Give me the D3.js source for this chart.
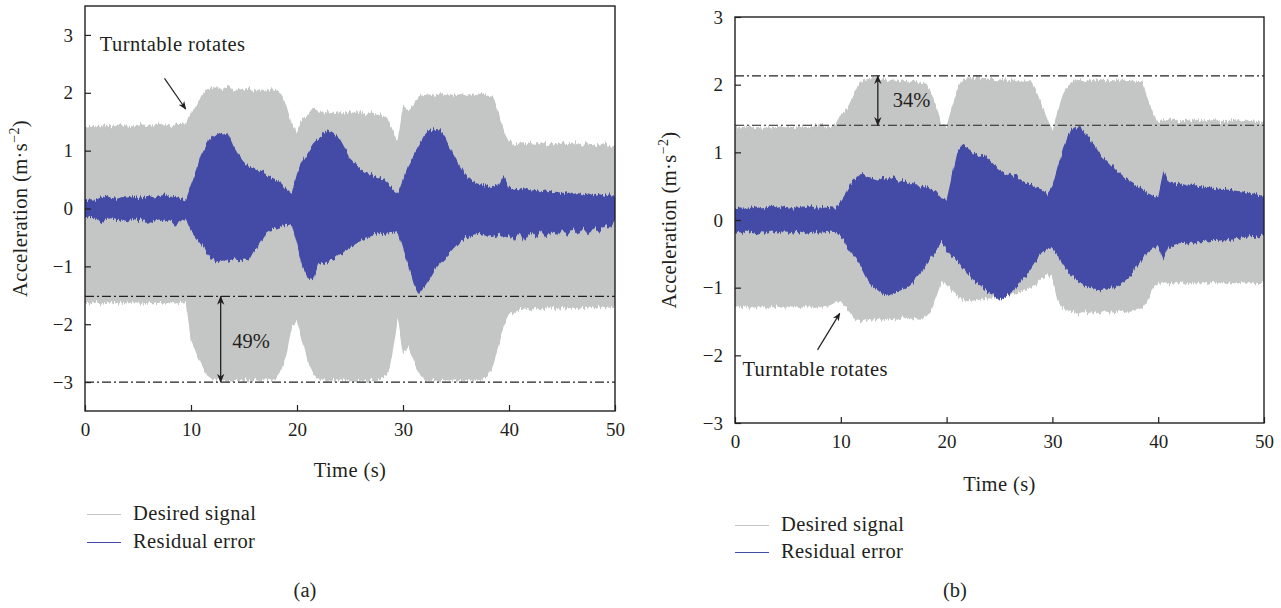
<!DOCTYPE html>
<html>
<head>
<meta charset="utf-8">
<script src="https://cdn.jsdelivr.net/npm/d3@7"></script>
<style>
  html, body { margin: 0; padding: 0; background: #ffffff; }
  svg text { font-family: "Liberation Serif", "DejaVu Serif", serif; fill: #231f20; }
</style>
</head>
<body>
<svg id="chart" width="1281" height="608"></svg>
<script>
// Sample times (s), shared by both recordings: envelope values every 0.5 s
const time = d3.range(0, 50.001, 0.5).map(t => +t.toFixed(1));

// (a) Desired signal envelope (m·s^-2)
const desiredUpperA = [
  1.40,1.43,1.42,1.44,1.43,1.42,1.45,1.43,1.44,1.42,
  1.43,1.45,1.44,1.43,1.46,1.45,1.44,1.47,1.46,1.45,
  1.67,1.76,1.96,2.06,2.08,2.10,2.05,2.12,2.04,2.07,
  2.05,2.08,2.03,2.06,2.04,2.06,2.05,1.98,1.78,1.47,
  1.35,1.55,1.62,1.74,1.68,1.66,1.68,1.65,1.67,1.64,
  1.67,1.65,1.68,1.63,1.66,1.64,1.62,1.55,1.35,1.18,
  1.78,1.70,1.80,1.94,1.96,1.97,1.95,1.99,1.96,1.97,
  1.96,1.98,1.95,1.97,1.96,2.00,1.95,1.93,1.65,1.35,
  1.17,1.12,1.14,1.10,1.13,1.12,1.15,1.11,1.13,1.12,
  1.14,1.11,1.12,1.13,1.10,1.12,1.11,1.09,1.11,1.08,
  1.10];
const desiredLowerA = [
  -1.62,-1.64,-1.61,-1.66,-1.63,-1.62,-1.65,-1.63,-1.64,-1.62,
  -1.63,-1.66,-1.62,-1.64,-1.63,-1.65,-1.62,-1.64,-1.63,-1.62,
  -2.29,-2.50,-2.70,-2.88,-2.95,-2.97,-2.95,-2.99,-2.96,-2.98,
  -2.97,-2.99,-2.96,-2.98,-2.95,-2.97,-2.93,-2.80,-2.55,-2.06,
  -1.94,-2.30,-2.65,-2.85,-2.95,-2.97,-2.99,-2.96,-2.98,-2.97,
  -2.98,-3.00,-2.97,-2.99,-2.96,-2.98,-2.95,-2.88,-2.55,-1.90,
  -2.52,-2.40,-2.62,-2.85,-2.96,-2.98,-2.97,-2.99,-2.96,-2.98,
  -2.97,-2.99,-2.96,-2.98,-2.97,-2.95,-2.90,-2.70,-2.40,-2.05,
  -1.82,-1.80,-1.74,-1.73,-1.75,-1.72,-1.74,-1.73,-1.71,-1.74,
  -1.72,-1.73,-1.71,-1.74,-1.72,-1.71,-1.73,-1.70,-1.72,-1.71,
  -1.70];

// (a) Residual error envelope
const residualUpperA = [
  0.14,0.16,0.15,0.19,0.22,0.18,0.17,0.20,0.19,0.21,
  0.18,0.20,0.22,0.19,0.21,0.24,0.20,0.22,0.17,0.14,
  0.40,0.65,0.95,1.12,1.25,1.32,1.28,1.30,1.08,0.92,
  0.80,0.74,0.70,0.65,0.60,0.55,0.50,0.44,0.34,0.27,
  0.60,0.82,0.97,1.12,1.22,1.30,1.36,1.30,1.22,1.05,
  0.85,0.75,0.68,0.62,0.58,0.55,0.52,0.45,0.34,0.25,
  0.50,0.75,0.92,1.08,1.25,1.34,1.38,1.36,1.22,1.02,
  0.85,0.68,0.56,0.48,0.43,0.41,0.38,0.37,0.40,0.58,
  0.36,0.34,0.33,0.35,0.31,0.32,0.30,0.31,0.28,0.29,
  0.27,0.28,0.25,0.27,0.24,0.26,0.23,0.25,0.22,0.24,
  0.20];
const residualLowerA = [
  -0.14,-0.17,-0.16,-0.26,-0.18,-0.17,-0.20,-0.19,-0.22,-0.18,
  -0.20,-0.19,-0.28,-0.21,-0.19,-0.23,-0.20,-0.30,-0.22,-0.16,
  -0.38,-0.50,-0.62,-0.77,-0.88,-0.93,-0.90,-0.92,-0.89,-0.91,
  -0.88,-0.90,-0.73,-0.60,-0.45,-0.38,-0.35,-0.32,-0.30,-0.27,
  -0.62,-1.00,-1.20,-1.24,-0.98,-0.95,-0.90,-0.88,-0.80,-0.72,
  -0.68,-0.62,-0.56,-0.52,-0.48,-0.45,-0.44,-0.43,-0.42,-0.41,
  -0.70,-0.98,-1.30,-1.48,-1.36,-1.22,-1.06,-0.95,-0.85,-0.76,
  -0.66,-0.56,-0.50,-0.46,-0.44,-0.45,-0.49,-0.47,-0.44,-0.52,
  -0.44,-0.58,-0.42,-0.55,-0.40,-0.52,-0.39,-0.50,-0.38,-0.49,
  -0.36,-0.47,-0.35,-0.45,-0.33,-0.44,-0.31,-0.42,-0.28,-0.36,
  -0.21];

// (b) Desired signal envelope
const desiredUpperB = [
  1.36,1.38,1.37,1.39,1.37,1.38,1.36,1.38,1.37,1.39,
  1.38,1.37,1.39,1.38,1.37,1.38,1.40,1.38,1.39,1.40,
  1.57,1.62,1.78,1.96,2.06,2.08,2.10,2.07,2.09,2.06,
  2.08,2.05,2.07,2.04,2.06,2.03,2.02,1.90,1.70,1.42,
  1.39,1.67,1.92,2.08,2.11,2.09,2.12,2.08,2.10,2.07,
  2.06,2.08,2.05,2.07,2.04,2.05,2.05,1.90,1.70,1.52,
  1.30,1.62,1.86,2.00,2.06,2.07,2.05,2.08,2.06,2.07,
  2.05,2.07,2.06,2.08,2.05,2.06,2.04,2.04,1.80,1.58,
  1.44,1.49,1.47,1.50,1.46,1.48,1.47,1.49,1.46,1.48,
  1.47,1.49,1.46,1.48,1.47,1.50,1.46,1.48,1.47,1.46,
  1.47];
const desiredLowerB = [
  -1.27,-1.29,-1.28,-1.30,-1.29,-1.28,-1.30,-1.29,-1.28,-1.30,
  -1.29,-1.28,-1.30,-1.29,-1.28,-1.30,-1.29,-1.27,-1.26,-1.22,
  -1.20,-1.30,-1.40,-1.48,-1.50,-1.47,-1.49,-1.46,-1.48,-1.47,
  -1.46,-1.48,-1.45,-1.47,-1.45,-1.46,-1.44,-1.35,-1.15,-0.92,
  -0.95,-1.05,-1.12,-1.18,-1.20,-1.19,-1.18,-1.17,-1.16,-1.15,
  -1.14,-1.12,-1.10,-1.09,-1.06,-1.03,-1.00,-0.95,-0.86,-0.80,
  -0.85,-1.20,-1.30,-1.35,-1.36,-1.38,-1.35,-1.37,-1.36,-1.38,
  -1.35,-1.37,-1.36,-1.34,-1.37,-1.35,-1.33,-1.30,-1.20,-1.00,
  -0.95,-0.93,-0.95,-0.94,-0.92,-0.95,-0.93,-0.94,-0.92,-0.95,
  -0.93,-0.94,-0.92,-0.95,-0.93,-0.94,-0.92,-0.93,-0.94,-0.93,
  -0.93];

// (b) Residual error envelope
const residualUpperB = [
  0.17,0.19,0.16,0.18,0.20,0.17,0.19,0.21,0.18,0.20,
  0.19,0.17,0.20,0.18,0.21,0.19,0.18,0.20,0.19,0.18,
  0.28,0.40,0.55,0.62,0.70,0.64,0.62,0.60,0.64,0.58,
  0.63,0.56,0.60,0.52,0.55,0.48,0.50,0.45,0.42,0.32,
  0.30,0.65,1.00,1.10,1.06,1.00,0.96,0.98,0.88,0.80,
  0.75,0.70,0.66,0.68,0.60,0.55,0.52,0.48,0.45,0.38,
  0.50,0.78,1.05,1.25,1.36,1.40,1.30,1.20,1.10,0.98,
  0.90,0.82,0.74,0.66,0.60,0.55,0.50,0.46,0.40,0.36,
  0.34,0.72,0.56,0.54,0.55,0.52,0.53,0.51,0.50,0.49,
  0.48,0.47,0.46,0.45,0.44,0.43,0.42,0.40,0.39,0.37,
  0.36];
const residualLowerB = [
  -0.18,-0.20,-0.17,-0.19,-0.21,-0.18,-0.19,-0.17,-0.20,-0.18,
  -0.19,-0.17,-0.18,-0.20,-0.18,-0.17,-0.19,-0.18,-0.17,-0.18,
  -0.25,-0.38,-0.48,-0.58,-0.72,-0.88,-0.98,-1.04,-1.10,-1.12,
  -1.08,-1.05,-1.02,-0.96,-0.89,-0.80,-0.68,-0.56,-0.45,-0.32,
  -0.45,-0.55,-0.60,-0.70,-0.79,-0.88,-0.96,-1.02,-1.08,-1.12,
  -1.19,-1.14,-1.09,-1.00,-0.92,-0.84,-0.72,-0.60,-0.48,-0.42,
  -0.40,-0.52,-0.65,-0.76,-0.85,-0.92,-0.98,-1.00,-1.03,-1.04,
  -1.02,-1.00,-0.99,-0.95,-0.88,-0.80,-0.68,-0.58,-0.48,-0.42,
  -0.40,-0.60,-0.40,-0.38,-0.36,-0.35,-0.34,-0.33,-0.33,-0.32,
  -0.31,-0.31,-0.30,-0.30,-0.29,-0.28,-0.27,-0.26,-0.25,-0.24,
  -0.23];

// Axis ticks
const xTicks = [0, 10, 20, 30, 40, 50];
const yTicksA = [-3, -2, -1, 0, 1, 2, 3];
const yTicksB = [-3, -2, -1, 0, 1, 2, 3];

// Reference levels and annotations
const levelsA = [-1.52, -3.0];
const levelsB = [2.13, 1.40];
const percentA = "49%";
const percentB = "34%";
const seriesNames = ["Desired signal", "Residual error"];

const COLOR_DESIRED = "#c4c6c6";
const COLOR_RESIDUAL = "#434ba6";
const INK = "#231f20";
const TEXT_SIZE = 20.5;
const TICK_SIZE = 19;

const svg = d3.select("#chart");
const defs = svg.append("defs");
const marker = defs.append("marker")
  .attr("id", "head").attr("viewBox", "0 0 10 10")
  .attr("refX", 9).attr("refY", 5)
  .attr("markerWidth", 7).attr("markerHeight", 7)
  .attr("orient", "auto-start-reverse");
marker.append("path").attr("d", "M0,1 L10,5 L0,9 L3,5 Z").attr("fill", INK);

// Vertical-only fine ripple on envelope edges, like a densely sampled trace
const ripple = defs.append("filter").attr("id", "ripple")
  .attr("x", "0%").attr("y", "-10%").attr("width", "100%").attr("height", "120%")
  .attr("color-interpolation-filters", "sRGB");
ripple.append("feTurbulence").attr("type", "fractalNoise")
  .attr("baseFrequency", "0.55 0.01").attr("numOctaves", 2).attr("seed", 4)
  .attr("result", "noise");
ripple.append("feColorMatrix").attr("in", "noise").attr("type", "matrix")
  .attr("values", "0 0 0 0 0.5  0 1 0 0 0  0 0 1 0 0  0 0 0 0 1")
  .attr("result", "vnoise");
ripple.append("feDisplacementMap").attr("in", "SourceGraphic").attr("in2", "vnoise")
  .attr("scale", 9).attr("xChannelSelector", "R").attr("yChannelSelector", "G");

const minus = v => (v < 0 ? "\u2212" + Math.abs(v) : String(v));

function drawPanel(cfg) {
  const x = d3.scaleLinear().domain([0, 50]).range([cfg.left, cfg.right]);
  const y = d3.scaleLinear().domain(cfg.yDomain).range([cfg.bottom, cfg.top]);
  const g = svg.append("g");
  const clipId = "clip-" + cfg.id;
  defs.append("clipPath").attr("id", clipId)
    .append("rect").attr("x", cfg.left).attr("y", cfg.top)
    .attr("width", cfg.right - cfg.left).attr("height", cfg.bottom - cfg.top);

  const plot = g.append("g").attr("clip-path", `url(#${clipId})`);
  const band = (upper, lower) => d3.area()
    .x((d, i) => x(time[i]))
    .y0((d, i) => y(lower[i]))
    .y1((d, i) => y(upper[i]))(time);

  plot.append("path").attr("d", band(cfg.desiredUpper, cfg.desiredLower))
    .attr("fill", COLOR_DESIRED).attr("filter", "url(#ripple)");
  plot.append("path").attr("d", band(cfg.residualUpper, cfg.residualLower))
    .attr("fill", COLOR_RESIDUAL).attr("filter", "url(#ripple)");

  // dash-dot reference levels
  plot.selectAll("line.level").data(cfg.levels).join("line")
    .attr("class", "level")
    .attr("x1", cfg.left).attr("x2", cfg.right)
    .attr("y1", d => y(d)).attr("y2", d => y(d))
    .attr("stroke", "#222").attr("stroke-width", 1.2)
    .attr("stroke-dasharray", "9,3,2,3");

  // double arrow between the levels
  g.append("line")
    .attr("x1", x(cfg.arrowT)).attr("x2", x(cfg.arrowT))
    .attr("y1", y(cfg.levels[0])).attr("y2", y(cfg.levels[1]))
    .attr("stroke", INK).attr("stroke-width", 1.3)
    .attr("marker-start", "url(#head)").attr("marker-end", "url(#head)");
  g.append("text").attr("x", x(cfg.percentT)).attr("y", y(cfg.percentV))
    .attr("dy", "0.35em").attr("font-size", TEXT_SIZE).text(cfg.percent);

  // "Turntable rotates" callout
  g.append("text").attr("x", x(cfg.noteT)).attr("y", y(cfg.noteV))
    .attr("font-size", TEXT_SIZE).attr("letter-spacing", 0.4).text("Turntable rotates");
  g.append("line")
    .attr("x1", x(cfg.arrowFrom[0])).attr("y1", y(cfg.arrowFrom[1]))
    .attr("x2", x(cfg.arrowTo[0])).attr("y2", y(cfg.arrowTo[1]))
    .attr("stroke", INK).attr("stroke-width", 1.2)
    .attr("marker-end", "url(#head)");

  // axes with inward ticks
  const yAxis = d3.axisLeft(y).tickValues(cfg.yTicks).tickSize(-6).tickPadding(12)
    .tickFormat(minus);
  const xAxis = d3.axisBottom(x).tickValues(xTicks).tickSize(-6).tickPadding(12);
  const ya = g.append("g").attr("transform", `translate(${cfg.left},0)`).call(yAxis);
  const xa = g.append("g").attr("transform", `translate(0,${cfg.bottom})`).call(xAxis);
  [ya, xa].forEach(a => {
    a.select(".domain").remove();
    a.selectAll(".tick line").attr("stroke", INK).attr("stroke-width", 1.2);
    a.selectAll(".tick text").attr("font-size", TICK_SIZE)
      .attr("font-family", '"Liberation Serif", serif').attr("fill", INK);
  });

  // frame
  g.append("rect").attr("x", cfg.left).attr("y", cfg.top)
    .attr("width", cfg.right - cfg.left).attr("height", cfg.bottom - cfg.top)
    .attr("fill", "none").attr("stroke", INK).attr("stroke-width", 1.4);

  // axis titles
  g.append("text").attr("x", (cfg.left + cfg.right) / 2).attr("y", cfg.timeY)
    .attr("text-anchor", "middle").attr("font-size", TEXT_SIZE).attr("letter-spacing", 0.4)
    .text("Time (s)");
  const yt = g.append("text")
    .attr("transform", `translate(${cfg.yTitleX},${(cfg.top + cfg.bottom) / 2}) rotate(-90)`)
    .attr("text-anchor", "middle").attr("font-size", TEXT_SIZE).attr("letter-spacing", 0.4);
  yt.append("tspan").text("Acceleration (m\u00b7s");
  yt.append("tspan").attr("dy", -8).attr("font-size", 14).text("\u22122");
  yt.append("tspan").attr("dy", 8).text(")");

  // legend
  seriesNames.forEach((name, i) => {
    const ly = Math.round(cfg.legendY + i * cfg.legendGap) + 0.5;
    g.append("line").attr("x1", cfg.legendX).attr("x2", cfg.legendX + 34)
      .attr("y1", ly).attr("y2", ly)
      .attr("stroke", i === 0 ? COLOR_DESIRED : COLOR_RESIDUAL)
      .attr("stroke-width", 1).attr("shape-rendering", "crispEdges");
    g.append("text").attr("x", cfg.legendX + 46).attr("y", ly + 5)
      .attr("font-size", TEXT_SIZE).attr("letter-spacing", 0.4).text(name);
  });

  g.append("text").attr("x", cfg.captionX).attr("y", 597)
    .attr("text-anchor", "middle").attr("font-size", TEXT_SIZE).text(cfg.caption);
}

drawPanel({
  id: "a", left: 85, right: 615, top: 6, bottom: 411, yDomain: [-3.5, 3.5],
  yTicks: yTicksA,
  desiredUpper: desiredUpperA, desiredLower: desiredLowerA,
  residualUpper: residualUpperA, residualLower: residualLowerA,
  levels: levelsA, arrowT: 12.8, percent: percentA, percentT: 13.9, percentV: -2.28,
  noteT: 1.4, noteV: 2.72, arrowFrom: [7.5, 2.25], arrowTo: [9.5, 1.72],
  timeY: 477, yTitleX: 27,
  legendX: 87, legendY: 514, legendGap: 28, captionX: 305, caption: "(a)"
});

drawPanel({
  id: "b", left: 735, right: 1264, top: 17, bottom: 423, yDomain: [-3, 3],
  yTicks: yTicksB,
  desiredUpper: desiredUpperB, desiredLower: desiredLowerB,
  residualUpper: residualUpperB, residualLower: residualLowerB,
  levels: levelsB, arrowT: 13.5, percent: percentB, percentT: 14.9, percentV: 1.78,
  noteT: 0.7, noteV: -2.3, arrowFrom: [7.8, -1.92], arrowTo: [9.9, -1.38],
  timeY: 491, yTitleX: 676,
  legendX: 735, legendY: 525, legendGap: 27, captionX: 955, caption: "(b)"
});
</script>
</body>
</html>
